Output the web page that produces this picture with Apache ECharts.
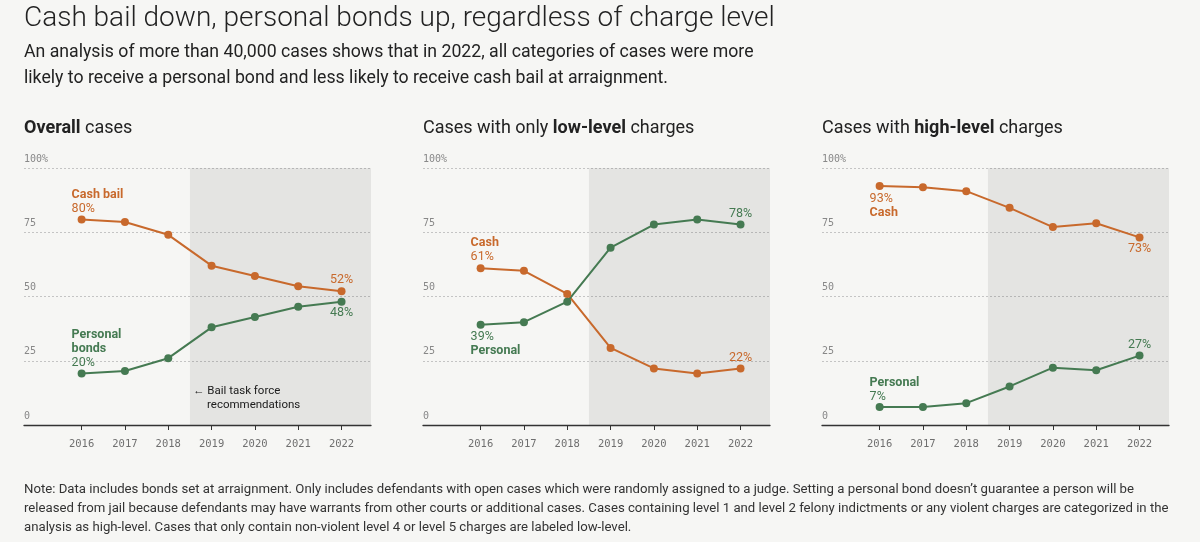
<!DOCTYPE html>
<html>
<head>
<meta charset="utf-8">
<script src="https://cdn.jsdelivr.net/npm/echarts@6/dist/echarts.min.js"></script>
<style>
  html, body { margin: 0; padding: 0; background: #f6f6f4; }
  #chart { width: 1200px; height: 542px; }
</style>
</head>
<body>
<div id="chart"></div>
<script>
// data (share of cases, %)
var years = [2016, 2017, 2018, 2019, 2020, 2021, 2022];
var overallCash = [80, 79, 74, 62, 58, 54, 52];
var overallPersonal = [20, 21, 26, 38, 42, 46, 48];
var lowCash = [61, 60, 51, 30, 22, 20, 22];
var lowPersonal = [39, 40, 48, 69, 78, 80, 78];
var highCash = [93, 92.5, 91, 84.5, 77, 78.5, 73];
var highPersonal = [7, 7, 8.5, 15, 22.3, 21.3, 27];
var taskForceStart = 2018.5;
var panelTitles = ['{b|Overall} cases', 'Cases with only {b|low-level} charges', 'Cases with {b|high-level} charges'];

var ORANGE = '#c8692c';
var GREEN = '#457a52';
var FONT = 'Roboto, "Noto Sans", sans-serif';
var MONO = '"DejaVu Sans Mono", monospace';
var xMin = 2014.67, xMax = 2022.68;
var panelLeft = [24, 423, 822];

// name + value label for the first point, value label for the last
function makeSeries(idx, name, vals, color, first, last) {
    var rich = {
        n: { fontFamily: FONT, fontSize: 12.5, fontWeight: 'bold', color: color, lineHeight: 14 },
        v: { fontFamily: FONT, fontSize: 12.5, color: color, lineHeight: 14 }
    };
    var data = years.map(function (y, i) {
        var d = { value: [y, vals[i]] };
        var pct = '{v|' + Math.round(vals[i]) + '%}';
        if (i === 0) {
            var names = first.name.map(function (s) { return '{n|' + s + '}'; }).join('\n');
            d.label = {
                show: true, position: first.pos, align: 'left', offset: [-10, 0],
                distance: first.dist, rich: rich,
                formatter: first.pos === 'top' ? names + '\n' + pct : pct + '\n' + names
            };
        }
        if (i === vals.length - 1) {
            d.label = { show: true, position: last.pos, distance: 0, rich: rich, formatter: pct };
        }
        return d;
    });
    return {
        name: name, type: 'line', xAxisIndex: idx, yAxisIndex: idx,
        data: data, symbol: 'circle', symbolSize: 8,
        lineStyle: { color: color, width: 2 },
        itemStyle: { color: color },
        label: { show: false }
    };
}

function shade(idx) {
    return {
        type: 'line', xAxisIndex: idx, yAxisIndex: idx, data: [],
        markArea: {
            silent: true,
            itemStyle: { color: 'rgba(0,0,0,0.07)' },
            data: [[{ xAxis: taskForceStart, yAxis: 0 }, { xAxis: xMax, yAxis: 100 }]]
        }
    };
}

var grids = [], xAxes = [], yAxes = [], titles = [];
for (var i = 0; i < 3; i++) {
    grids.push({ left: panelLeft[i], width: 347, top: 168, height: 257, containLabel: false, outerBoundsMode: 'none' });
    xAxes.push({
        type: 'value', gridIndex: i, min: xMin, max: xMax,
        axisLine: { lineStyle: { color: '#333', width: 1.3 } },
        axisTick: { customValues: years, length: 5, lineStyle: { color: '#333' } },
        axisLabel: { customValues: years, margin: 14, fontFamily: MONO, fontSize: 10.5, color: '#6f6f6f',
            formatter: function (v) { return String(v); } },
        splitLine: { show: false }
    });
    yAxes.push({
        type: 'value', gridIndex: i, min: 0, max: 100, interval: 25,
        axisLine: { show: false }, axisTick: { show: false },
        axisLabel: { inside: true, margin: 0, verticalAlign: 'bottom', padding: [0, 0, 4, 0],
            fontFamily: MONO, fontSize: 10, color: '#888',
            formatter: function (v) { return v === 100 ? '100%' : String(v); } },
        splitLine: { lineStyle: { color: '#c4c4c4', type: [2, 2], width: 1 } }
    });
    titles.push({
        text: panelTitles[i], left: panelLeft[i], top: 118, padding: 0,
        textStyle: { fontFamily: FONT, fontSize: 18, fontWeight: 'normal', color: '#222', lineHeight: 21,
            rich: { b: { fontFamily: FONT, fontSize: 18, fontWeight: 'bold', color: '#222', lineHeight: 21 } } }
    });
}

titles.push({
    text: 'Cash bail down, personal bonds up, regardless of charge level',
    left: 24, top: 3, padding: 0,
    textStyle: { fontFamily: FONT, fontSize: 28, fontWeight: 300, color: '#222', lineHeight: 32 }
});
titles.push({
    text: 'An analysis of more than 40,000 cases shows that in 2022, all categories of cases were more\n' +
          'likely to receive a personal bond and less likely to receive cash bail at arraignment.',
    left: 24, top: 40, padding: 0,
    textStyle: { fontFamily: FONT, fontSize: 17.7, fontWeight: 'normal', color: '#222', lineHeight: 26 }
});
titles.push({
    text: 'Note: Data includes bonds set at arraignment. Only includes defendants with open cases which were randomly assigned to a judge. Setting a personal bond doesn\u2019t guarantee a person will be\n' +
          'released from jail because defendants may have warrants from other courts or additional cases. Cases containing level 1 and level 2 felony indictments or any violent charges are categorized in the\n' +
          'analysis as high-level. Cases that only contain non-violent level 4 or level 5 charges are labeled low-level.',
    left: 24, top: 480, padding: 0,
    textStyle: { fontFamily: FONT, fontSize: 13.2, fontWeight: 'normal', color: '#333', lineHeight: 19 }
});

var series = [
    shade(0), shade(1), shade(2),
    makeSeries(0, 'Cash bail', overallCash, ORANGE, { name: ['Cash bail'], pos: 'top', dist: 0 }, { pos: 'top' }),
    makeSeries(0, 'Personal bonds', overallPersonal, GREEN, { name: ['Personal', 'bonds'], pos: 'top', dist: 0 }, { pos: 'bottom' }),
    makeSeries(1, 'Cash', lowCash, ORANGE, { name: ['Cash'], pos: 'top', dist: 0 }, { pos: 'top' }),
    makeSeries(1, 'Personal', lowPersonal, GREEN, { name: ['Personal'], pos: 'bottom', dist: 1 }, { pos: 'top' }),
    makeSeries(2, 'Cash', highCash, ORANGE, { name: ['Cash'], pos: 'bottom', dist: 2 }, { pos: 'bottom' }),
    makeSeries(2, 'Personal', highPersonal, GREEN, { name: ['Personal'], pos: 'top', dist: -1 }, { pos: 'top' })
];

var chart = echarts.init(document.getElementById('chart'), null, { renderer: 'canvas' });
chart.setOption({
    backgroundColor: '#f6f6f4',
    animation: false,
    title: titles,
    grid: grids,
    xAxis: xAxes,
    yAxis: yAxes,
    series: series,
    graphic: [
        { type: 'text', x: 193, y: 385, silent: true,
          style: { text: '\u2190 Bail task force', font: '11.5px ' + FONT, fill: '#222' } },
        { type: 'text', x: 207, y: 399, silent: true,
          style: { text: 'recommendations', font: '11.5px ' + FONT, fill: '#222' } }
    ]
});
</script>
</body>
</html>
